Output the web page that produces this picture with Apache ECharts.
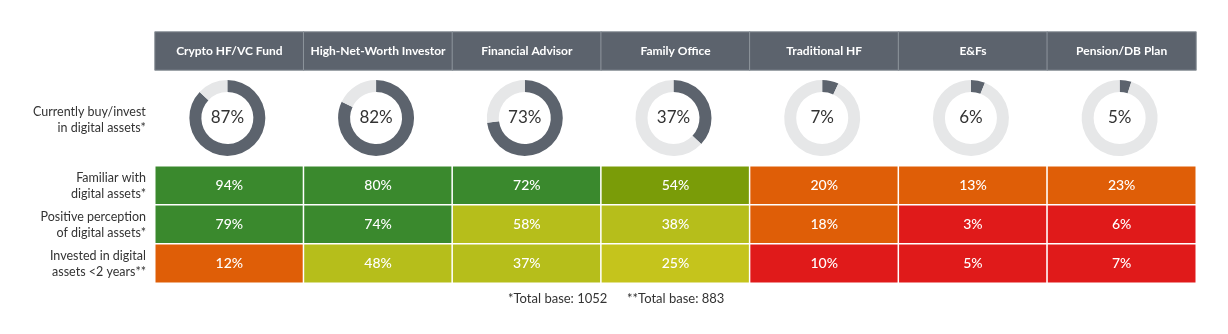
<!DOCTYPE html>
<html><head><meta charset="utf-8">
<script src="https://cdn.jsdelivr.net/npm/echarts@6/dist/echarts.min.js"></script>
<style>html,body{margin:0;padding:0;background:#fff}#c{width:1228px;height:334px}</style>
</head><body><div id="c"></div>
<script>
const categories = ['Crypto HF/VC Fund','High-Net-Worth Investor','Financial Advisor','Family Office','Traditional HF','E&Fs','Pension/DB Plan'];
const currentlyInvest = [87, 82, 73, 37, 7, 6, 5];
const rowLabels = ['Familiar with\ndigital assets*','Positive perception\nof digital assets*','Invested in digital\nassets <2 years**'];
const familiar = [94, 80, 72, 54, 20, 13, 23];
const positive = [79, 74, 58, 38, 18, 3, 6];
const investedRecent = [12, 48, 37, 25, 10, 5, 7];
const donutLabel = 'Currently buy/invest\nin digital assets*';
const footnotes = ['*Total base: 1052', '**Total base: 883'];

const FONT = 'Lato, "Open Sans", sans-serif';
const W = 1228, L = 155, R = 1196;
const colW = (R - L) / categories.length;
const chart = echarts.init(document.getElementById('c'), null, {renderer: 'canvas'});

const rows = [familiar, positive, investedRecent];
const heatData = [];
rows.forEach((arr, r) => arr.forEach((v, i) => heatData.push([i, r, v])));

const series = [
  {
    type: 'heatmap', xAxisIndex: 0, yAxisIndex: 0, silent: true,
    data: categories.map((c, i) => [i, 0, 1]),
    itemStyle: {color: '#5c636d', borderColor: '#8e959c', borderWidth: 1},
    label: {show: true, color: '#fff', fontFamily: FONT, fontWeight: 'bold', fontSize: 12,
      formatter: p => categories[p.data[0]]}
  },
  {
    type: 'heatmap', xAxisIndex: 1, yAxisIndex: 1, silent: true,
    data: heatData,
    itemStyle: {borderColor: '#ffffff', borderWidth: 1.5},
    label: {show: true, color: '#fff', fontFamily: FONT, fontSize: 14, fontWeight: 500,
      formatter: p => p.data[2] + '%'}
  }
];
currentlyInvest.forEach((v, i) => {
  series.push({
    type: 'pie', silent: true, animation: false,
    center: [L + colW * (i + 0.5) - 2, 118],
    radius: [26, 38], startAngle: 90, clockwise: true,
    label: {show: false}, labelLine: {show: false},
    data: [
      {value: v, itemStyle: {color: '#5c636d'},
        label: {show: true, position: 'center', formatter: v + '%', color: '#333', fontSize: 17, fontFamily: FONT}},
      {value: 100 - v, itemStyle: {color: '#e6e7e8'}, label: {show: false}}
    ]
  });
});

chart.setOption({
  animation: false,
  textStyle: {fontFamily: FONT},
  grid: [
    {left: L, right: W - R, top: 32, height: 38},
    {left: L, right: W - R, top: 166, height: 117}
  ],
  xAxis: [
    {type: 'category', gridIndex: 0, data: categories, show: false},
    {type: 'category', gridIndex: 1, data: categories, show: false}
  ],
  yAxis: [
    {type: 'category', gridIndex: 0, data: [''], show: false},
    {type: 'category', gridIndex: 1, data: rowLabels, inverse: true,
      axisLine: {show: false}, axisTick: {show: false},
      axisLabel: {color: '#333', fontSize: 12.5, lineHeight: 16, align: 'right', margin: 9, fontFamily: FONT}}
  ],
  visualMap: {
    type: 'piecewise', show: false, seriesIndex: 1, dimension: 2,
    pieces: [
      {value: 54, color: '#7a9c08'},
      {value: 25, color: '#c5c41c'},
      {gte: 70, color: '#3a892d'},
      {gte: 30, lt: 70, color: '#b6be1b'},
      {gte: 11, lt: 30, color: '#df5e07'},
      {lt: 11, color: '#e01a1a'}
    ]
  },
  graphic: [
    {type: 'text', left: 33, top: 104,
      style: {text: donutLabel, textAlign: 'right', fill: '#333', fontSize: 12.5, lineHeight: 16, fontFamily: FONT}},
    {type: 'text', left: 508, top: 292,
      style: {text: footnotes[0], fill: '#333', fontSize: 13, fontFamily: FONT}},
    {type: 'text', left: 627, top: 292,
      style: {text: footnotes[1], fill: '#333', fontSize: 13, fontFamily: FONT}}
  ],
  series: series
});
</script></body></html>
